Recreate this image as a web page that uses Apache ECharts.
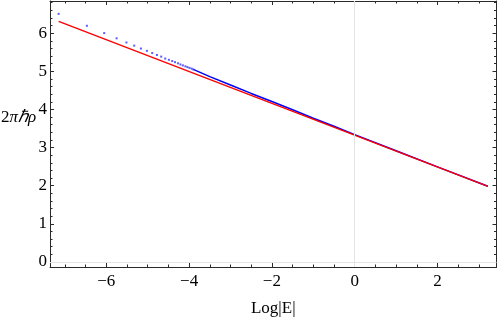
<!DOCTYPE html>
<html><head><meta charset="utf-8">
<script src="https://cdn.jsdelivr.net/npm/echarts@6/dist/echarts.min.js"></script>
<style>html,body{margin:0;padding:0;background:#fff}#c{width:498px;height:322px}</style>
</head><body><div id="c"></div>
<script>
// Blue sampled points (sparse part, drawn as dots)
const blueDotX = [-7.152, -6.469, -6.051, -5.751, -5.514, -5.326, -5.164, -5.019, -4.891, -4.778, -4.674, -4.577, -4.488, -4.408, -4.34, -4.27, -4.21, -4.15, -4.09, -4.04, -3.99, -3.94, -3.90];
const blueDotY = [6.508, 6.195, 6.003, 5.866, 5.757, 5.674, 5.598, 5.537, 5.479, 5.429, 5.386, 5.335, 5.302, 5.269, 5.24, 5.21, 5.18, 5.155, 5.13, 5.11, 5.09, 5.07, 5.05];
// Blue dense part (appears as a line)
const blueLineX = [-3.90, -3.5, -3.0, -2.5, -2.0, -1.5, -1.0, -0.5, 0, 1, 2, 3.217];
const blueLineY = [5.05, 4.86, 4.64, 4.42, 4.21, 3.99, 3.77, 3.56, 3.34, 2.917, 2.494, 1.983];
// Red reference line
const redX = [-7.152, 3.217];
const redY = [6.309, 1.980];
// Ticks
const xMajorTicks = [-6, -4, -2, 0, 2];
const xMinorTicks = [-7, -6.5, -5.5, -5, -4.5, -3.5, -3, -2.5, -1.5, -1, -0.5, 0.5, 1, 1.5, 2.5, 3];
const yMajorTicks = [0, 1, 2, 3, 4, 5, 6];
const yMinorTicks = [0.2,0.4,0.6,0.8,1.2,1.4,1.6,1.8,2.2,2.4,2.6,2.8,3.2,3.4,3.6,3.8,4.2,4.4,4.6,4.8,5.2,5.4,5.6,5.8,6.2,6.4,6.6,6.8];
const xName = 'Log|E|';
const yNameParts = ['2', 'πℏρ'];

const X_MIN = -7.36, X_MAX = 3.425, Y_MIN = -0.134, Y_MAX = 6.845;
const frame = {color: '#2a2a2a', width: 1};
const font = 'Liberation Serif';
const fmt = v => v < 0 ? '\u2212' + (-v) : String(v);

function xAx(pos, major, showLine, showLabel) {
  return {
    type: 'value', min: X_MIN, max: X_MAX, position: pos,
    axisLine: {show: showLine, onZero: false, lineStyle: frame},
    axisTick: {show: true, inside: true, length: major ? 4 : 2.5, customValues: major ? xMajorTicks : xMinorTicks, lineStyle: frame},
    axisLabel: {show: showLabel, customValues: xMajorTicks, formatter: fmt, fontFamily: font, fontSize: 17, color: '#000', margin: 6},
    splitLine: {show: false}
  };
}
function yAx(pos, major, showLine, showLabel) {
  return {
    type: 'value', min: Y_MIN, max: Y_MAX, position: pos,
    axisLine: {show: showLine, onZero: false, lineStyle: frame},
    axisTick: {show: true, inside: true, length: major ? 4 : 2.5, customValues: major ? yMajorTicks : yMinorTicks, lineStyle: frame},
    axisLabel: {show: showLabel, customValues: yMajorTicks, formatter: fmt, fontFamily: font, fontSize: 17, color: '#000', margin: 3},
    splitLine: {show: false}
  };
}

const xb = xAx('bottom', true, true, true);
xb.name = xName; xb.nameLocation = 'middle'; xb.nameGap = 33;
xb.nameTextStyle = {fontFamily: font, fontSize: 17, color: '#000'};

const chart = echarts.init(document.getElementById('c'), null, {renderer: 'canvas'});
chart.setOption({
  animation: false,
  backgroundColor: '#fff',
  grid: {left: 50, right: 1.5, top: 1, bottom: 45},
  xAxis: [xb, xAx('bottom', false, false, false), xAx('top', true, true, false), xAx('top', false, false, false)],
  yAxis: [yAx('left', true, true, true), yAx('left', false, false, false), yAx('right', true, true, false), yAx('right', false, false, false)],
  graphic: [{
    type: 'text', left: 1, top: 109,
    style: {
      text: '{a|' + yNameParts[0] + '}{b|' + yNameParts[1] + '}',
      rich: {
        a: {fontFamily: font, fontSize: 17, fill: '#000'},
        b: {fontFamily: font, fontSize: 17, fontStyle: 'italic', fill: '#000'}
      }
    }
  }],
  series: [
    {
      type: 'line', data: [], xAxisIndex: 0, yAxisIndex: 0, z: 1,
      markLine: {
        silent: true, symbol: 'none', label: {show: false},
        lineStyle: {color: '#e4e4e4', width: 1, type: 'solid'},
        data: [{xAxis: 0}, {yAxis: 0}]
      }
    },
    {
      type: 'scatter', z: 3, symbol: 'rect', symbolSize: 2,
      itemStyle: {color: '#3333ff'},
      data: blueDotX.map((x, i) => [x, blueDotY[i]])
    },
    {
      type: 'line', z: 3, symbol: 'none', smooth: false,
      lineStyle: {color: '#0000ff', width: 1.5},
      data: blueLineX.map((x, i) => [x, blueLineY[i]])
    },
    {
      type: 'line', z: 4, symbol: 'none',
      lineStyle: {color: '#ff0000', width: 1.4},
      data: redX.map((x, i) => [x, redY[i]])
    }
  ]
});
</script></body></html>
